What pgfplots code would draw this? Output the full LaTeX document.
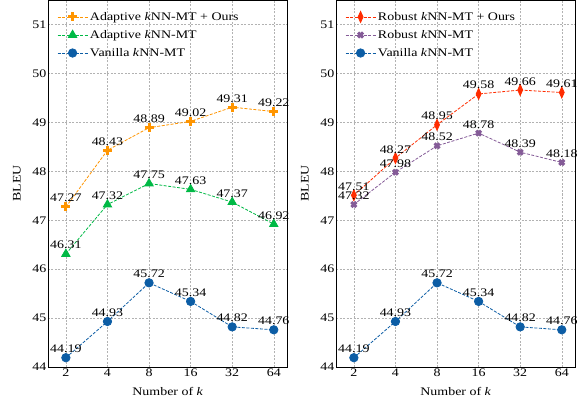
\documentclass[border=0pt]{standalone}
\usepackage{fontspec}
\setmainfont{Liberation Serif}
\usepackage{graphicx}
\usepackage{pgfplots}
\pgfplotsset{compat=1.18}
\definecolor{cOr}{HTML}{FF9500}
\definecolor{cGr}{HTML}{00B945}
\definecolor{cBl}{HTML}{0C5DA5}
\definecolor{cRe}{HTML}{FF2C00}
\definecolor{cPu}{HTML}{845B97}
\newcommand\fs{\fontsize{14}{16}\selectfont}
\newcommand\sy[1]{\scalebox{1}[0.83]{#1}}
\pgfplotsset{
 mylegend/.style={legend image code/.code={\draw[mark repeat=2,mark phase=2,##1] plot coordinates {(0bp,0bp) (15bp,0bp) (30bp,0bp)};}},
 panel/.style={
  scale only axis, width=239.5bp, height=367bp,
  xmin=-0.43, xmax=5.33, ymin=44, ymax=51.5,
  xtick={0,...,5}, xticklabels={\sy{2},\sy{4},\sy{8},\sy{16},\sy{32},\sy{64}},
  ytick={44,...,51}, yticklabels={\sy{44},\sy{45},\sy{46},\sy{47},\sy{48},\sy{49},\sy{50},\sy{51}},
  grid=major,
  major grid style={dash pattern=on 2bp off 1.5bp, color=black!30, line width=0.5bp},
  tick style={draw=none},
  axis line style={line width=0.8bp},
  ticklabel style={font=\fs},
  yticklabel style={inner sep=1.5bp},
  xticklabel style={inner sep=2bp},
  xlabel={\sy{Number of \textit{k}}}, ylabel={\sy{BLEU}},
  label style={font=\fs},
  xlabel style={at={(axis description cs:0.5,-0.078)}, anchor=base},
  ylabel style={at={(axis description cs:-0.13,0.5)}, anchor=center},
  legend style={at={(axis description cs:0,1)}, anchor=north west, draw=none, fill=none,
     font=\fs, row sep=4.5bp, xshift=6bp, yshift=-8bp, nodes={inner sep=2bp}},
  legend cell align=left,
  point meta=explicit symbolic,
  nodes near coords={\sy{\pgfplotspointmeta}},
  every node near coord/.append style={font=\fs, anchor=base, yshift=5bp, text=black},
  every axis plot/.append style={line width=0.8bp, dash pattern=on 3bp off 1.5bp, mylegend},
 }
}
\begin{document}
\begin{tikzpicture}
\begin{axis}[panel]
\addplot[cOr, mark=+, mark size=4.5bp, mark options={solid, line width=3bp}] coordinates {
(0,47.27) [47.27] (1,48.43) [48.43] (2,48.89) [48.89] (3,49.02) [49.02] (4,49.31) [49.31] (5,49.22) [49.22]};
\addlegendentry{\sy{Adaptive \textit{k}NN-MT + Ours}}
\addplot[cGr, mark=triangle*, mark size=4.8bp, mark options={solid}] coordinates {
(0,46.31) [46.31] (1,47.32) [47.32] (2,47.75) [47.75] (3,47.63) [47.63] (4,47.37) [47.37] (5,46.92) [46.92]};
\addlegendentry{\sy{Adaptive \textit{k}NN-MT}}
\addplot[cBl, mark=*, mark size=4.2bp, mark options={solid}] coordinates {
(0,44.19) [44.19] (1,44.93) [44.93] (2,45.72) [45.72] (3,45.34) [45.34] (4,44.82) [44.82] (5,44.76) [44.76]};
\addlegendentry{\sy{Vanilla \textit{k}NN-MT}}
\end{axis}
\begin{axis}[panel, at={(288bp,0)}, anchor=south west]
\addplot[cRe, mark=diamond*, mark size=5.5bp, mark options={solid, xscale=0.6}] coordinates {
(0,47.51) [47.51] (1,48.27) [48.27] (2,48.95) [48.95] (3,49.58) [49.58] (4,49.66) [49.66] (5,49.61) [49.61]};
\addlegendentry{\sy{Robust \textit{k}NN-MT + Ours}}
\addplot[cPu, mark=x, mark size=3.5bp, mark options={solid, line width=3bp}] coordinates {
(0,47.32) [47.32] (1,47.98) [47.98] (2,48.52) [48.52] (3,48.78) [48.78] (4,48.39) [48.39] (5,48.18) [48.18]};
\addlegendentry{\sy{Robust \textit{k}NN-MT}}
\addplot[cBl, mark=*, mark size=4.2bp, mark options={solid}] coordinates {
(0,44.19) [44.19] (1,44.93) [44.93] (2,45.72) [45.72] (3,45.34) [45.34] (4,44.82) [44.82] (5,44.76) [44.76]};
\addlegendentry{\sy{Vanilla \textit{k}NN-MT}}
\end{axis}
\pgfresetboundingbox
\useasboundingbox (-48bp,-40bp) rectangle (530bp,367bp);
\end{tikzpicture}
\end{document}
